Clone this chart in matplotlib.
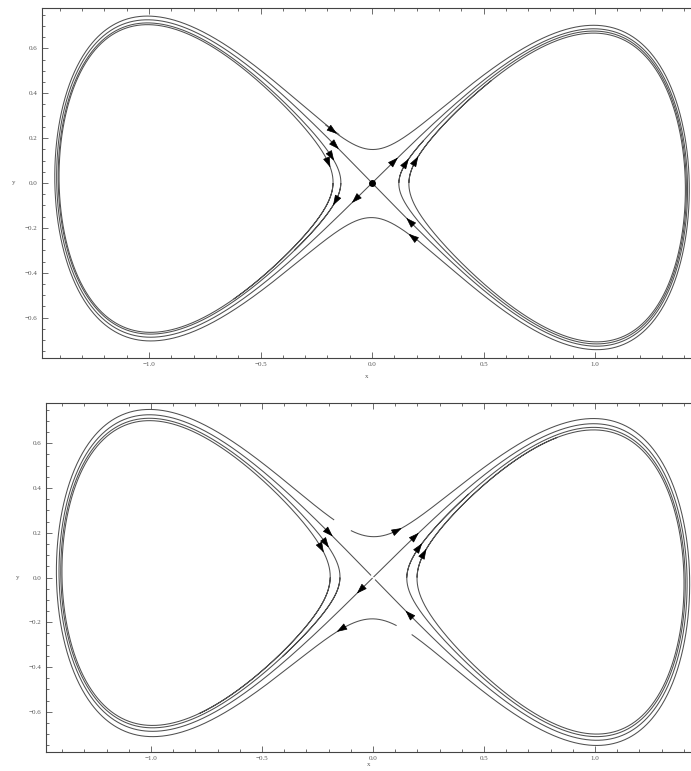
import numpy as np
import matplotlib
matplotlib.use("Agg")
import matplotlib.pyplot as plt
from matplotlib.ticker import MultipleLocator, FuncFormatter

# flow: x' = y + k x,  y' = x - x^3 - k y   (double well, saddle at the origin)
shear = [0.02, 0.02]

# upper panel: start points and run times of each orbit
top_x0 = [-0.21, 0.20, 0.002, -0.002, -0.14, -0.175, 0.12, 0.165]
top_y0 = [0.26, -0.255, 0.00196, -0.00196, 0.0, 0.0, 0.0, 0.0]
top_t = [7.4, 7.4, 13.0, 13.0, 9.0, 9.0, 9.0, 9.0]
# arrow heads: orbit index and position
top_arrow_orbit = [0, 1, 2, 2, 3, 3, 4, 4, 5, 6, 7]
top_arrow_x = [-0.18, 0.184, 0.099, 0.166, -0.076, -0.166, -0.188, -0.152, -0.197, 0.148, 0.193]
top_arrow_y = [0.23, -0.244, 0.094, -0.178, -0.067, 0.169, 0.117, -0.084, 0.093, 0.089, 0.098]

# lower panel
bot_x0 = [-0.10, 0.106, 0.002, -0.002, -0.149, -0.193, 0.152, 0.198]
bot_y0 = [0.21, -0.215, 0.00196, -0.00196, 0.0, 0.0, 0.0, 0.0]
bot_t = [6.5, 6.5, 13.0, 13.0, 9.0, 9.0, 9.0, 9.0]
bot_arrow_orbit = [0, 1, 2, 2, 3, 3, 4, 5, 6, 7]
bot_arrow_x = [0.114, -0.149, 0.19, 0.164, -0.059, -0.197, -0.216, -0.237, 0.204, 0.226]
bot_arrow_y = [0.195, -0.219, 0.18, -0.166, -0.05, 0.203, 0.153, 0.133, 0.133, 0.106]

x_ticks = [-1.0, -0.5, 0.0, 0.5, 1.0]
y_ticks = [-0.6, -0.4, -0.2, 0.0, 0.2, 0.4, 0.6]

LINE = "#505050"


def flow(p, k):
    x, y = p
    return np.array([y + k * x, x - x ** 3 - k * y])


def orbit(x0, y0, t_end, k, dt=0.005):
    n = int(round(t_end / dt))
    pts = np.empty((n + 1, 2))
    p = np.array([x0, y0], dtype=float)
    pts[0] = p
    for i in range(n):
        k1 = flow(p, k)
        k2 = flow(p + 0.5 * dt * k1, k)
        k3 = flow(p + 0.5 * dt * k2, k)
        k4 = flow(p + dt * k3, k)
        p = p + dt / 6.0 * (k1 + 2 * k2 + 2 * k3 + k4)
        pts[i + 1] = p
    return pts


def add_arrow(ax, pts, ax_x, ax_y):
    search = pts[:-60]
    i = int(np.argmin((search[:, 0] - ax_x) ** 2 + (search[:, 1] - ax_y) ** 2))
    seg = np.hypot(*np.diff(pts[i:], axis=0).T)
    j = i + 1 + int(np.searchsorted(np.cumsum(seg), 0.025))
    j = min(j, len(pts) - 1)
    ax.annotate("", xy=pts[j], xytext=pts[i],
                arrowprops=dict(arrowstyle="-|>,head_length=0.65,head_width=0.22",
                                color="black", lw=0.5, shrinkA=0, shrinkB=0))


def fmt(v, pos):
    s = "%.1f" % v
    if s == "-0.0":
        s = "0.0"
    return s.replace("-", "\u2212")


def panel(rect, xlim, k, x0s, y0s, ts, a_orb, a_x, a_y, saddle_dot, xpad):
    ax = fig.add_axes(rect)
    orbits = [orbit(x0, y0, t, k) for x0, y0, t in zip(x0s, y0s, ts)]
    for pts in orbits:
        ax.plot(pts[:, 0], pts[:, 1], color=LINE, lw=0.75, solid_capstyle="butt")
    for o, px, py in zip(a_orb, a_x, a_y):
        add_arrow(ax, orbits[o], px, py)
    if saddle_dot:
        ax.plot([0], [0], "o", color="black", ms=4)

    ax.set_xlim(*xlim)
    ax.set_ylim(-0.78, 0.78)
    ax.set_xticks(x_ticks)
    ax.set_yticks(y_ticks)
    ax.xaxis.set_minor_locator(MultipleLocator(0.1))
    ax.yaxis.set_minor_locator(MultipleLocator(0.05))
    ax.xaxis.set_major_formatter(FuncFormatter(fmt))
    ax.yaxis.set_major_formatter(FuncFormatter(fmt))
    ax.tick_params(which="both", direction="in", top=True, right=False,
                   colors="#555555", labelsize=5, width=0.6, pad=3)
    ax.tick_params(which="major", length=4)
    ax.tick_params(which="minor", length=2.2)
    for name in ("left", "bottom", "top"):
        ax.spines[name].set_color("#444444")
        ax.spines[name].set_linewidth(0.8)
    ax.spines["right"].set_visible(False)
    for lab in ax.get_xticklabels() + ax.get_yticklabels():
        lab.set_family("Liberation Serif")
    ax.set_xlabel("x", fontsize=5, color="#555555", labelpad=xpad, family="Liberation Serif")
    ax.set_ylabel("y", fontsize=5, color="#555555", rotation=0, labelpad=8,
                  family="Liberation Serif", va="center")
    return ax


fig = plt.figure(figsize=(6.91, 7.71), dpi=100)
panel([0.0608, 0.5357, 0.9392, 0.4539], (-1.48, 1.43), shear[0],
      top_x0, top_y0, top_t, top_arrow_orbit, top_arrow_x, top_arrow_y, True, 5)
panel([0.0666, 0.0246, 0.9334, 0.4527], (-1.473, 1.432), shear[1],
      bot_x0, bot_y0, bot_t, bot_arrow_orbit, bot_arrow_x, bot_arrow_y, False, 0.5)

fig.savefig("out.png", dpi=100)
